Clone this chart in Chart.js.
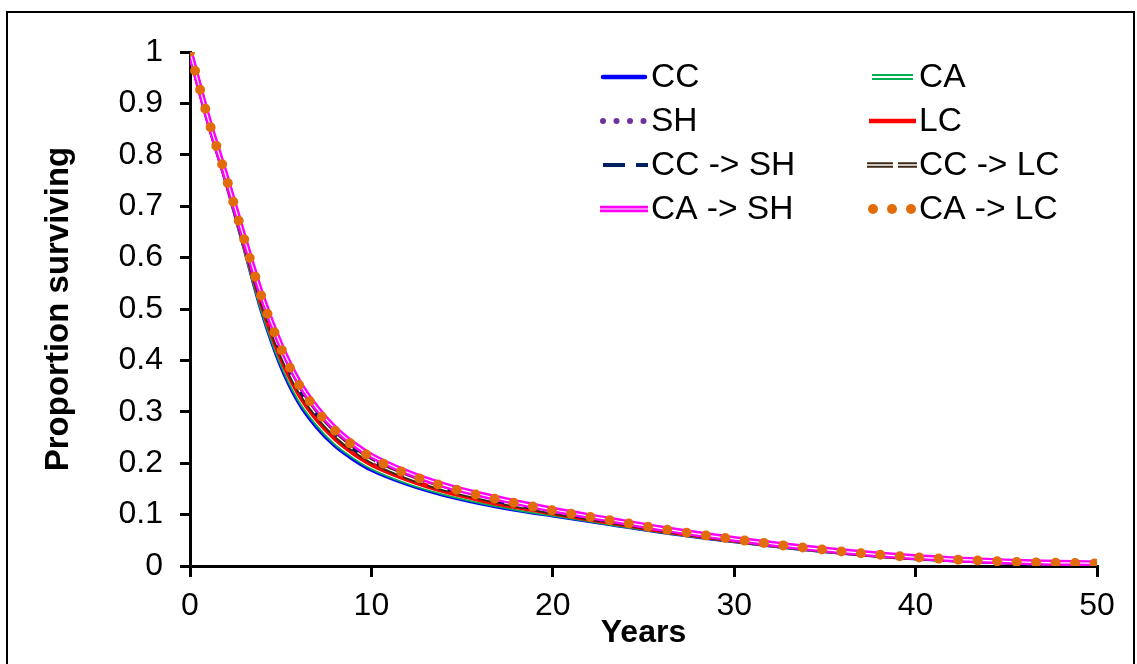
<!DOCTYPE html>
<html>
<head>
<meta charset="utf-8">
<script src="https://cdn.jsdelivr.net/npm/chart.js@4.4.1/dist/chart.umd.min.js"></script>
<style>
html,body{margin:0;padding:0;background:#ffffff;}
#wrap{position:relative;width:1137px;height:664px;overflow:hidden;}
</style>
</head>
<body>
<div id="wrap"><canvas id="c" width="1137" height="664"></canvas></div>
<script>
// ---- data ----
const years = [0,1,2,3,4,5,6,7,8,9,10,12,14,16,18,20,23,26,30,34,38,42,46,50];
const seriesLabels = ['CC','CA','SH','LC','CC -> SH','CC -> LC','CA -> SH','CA -> LC'];
const ccVals   = [1.000,0.868,0.750,0.622,0.494,0.393,0.320,0.271,0.235,0.209,0.188,0.160,0.139,0.123,0.110,0.099,0.083,0.067,0.049,0.033,0.0205,0.012,0.0065,0.004];
const caVals   = [1.000,0.868,0.751,0.624,0.498,0.399,0.326,0.277,0.240,0.2135,0.192,0.163,0.142,0.1255,0.112,0.1006,0.0843,0.068,0.0495,0.0334,0.0208,0.0122,0.0067,0.0042];
const shVals   = [1.000,0.870,0.7545,0.633,0.5156,0.422,0.350,0.299,0.260,0.2315,0.209,0.177,0.1534,0.1356,0.1208,0.1071,0.0893,0.0715,0.0517,0.0348,0.0219,0.0129,0.0074,0.0049];
const lcVals   = [1.000,0.869,0.752,0.627,0.505,0.407,0.335,0.285,0.248,0.220,0.198,0.1685,0.146,0.129,0.115,0.103,0.086,0.069,0.050,0.034,0.021,0.0124,0.0069,0.0044];
const ccShVals = [1.000,0.8696,0.754,0.631,0.513,0.418,0.346,0.295,0.257,0.2285,0.206,0.175,0.1515,0.134,0.1194,0.106,0.0885,0.071,0.0513,0.0346,0.0217,0.0128,0.0073,0.0048];
const ccLcVals = [1.000,0.869,0.753,0.630,0.511,0.415,0.343,0.293,0.255,0.2265,0.204,0.173,0.150,0.133,0.118,0.105,0.088,0.0705,0.051,0.034,0.0215,0.0127,0.0072,0.0047];
const caShVals = [1.000,0.8703,0.7558,0.6358,0.5216,0.4298,0.358,0.3067,0.2672,0.2378,0.2145,0.1819,0.1574,0.1391,0.1238,0.1094,0.091,0.0728,0.0525,0.0353,0.0222,0.0132,0.0077,0.0052];
const caLcVals = [1.000,0.870,0.755,0.634,0.518,0.425,0.353,0.302,0.263,0.234,0.211,0.179,0.155,0.137,0.122,0.108,0.090,0.072,0.052,0.035,0.022,0.013,0.0075,0.005];
const xTickLabels = ['0','10','20','30','40','50'];
const yTickLabels = ['0','0.1','0.2','0.3','0.4','0.5','0.6','0.7','0.8','0.9','1'];

// ---- styling ----
const FONT = '"Liberation Sans", Arial, sans-serif';
const colors = ['#0000FF','#00B050','#7030A0','#FF0000','#002060','#3C2814','#FF00FF','#E36C0A'];
const toXY = vals => years.map((x, i) => ({x: x, y: vals[i]}));
const base = {pointRadius:0, pointHoverRadius:0, fill:false, cubicInterpolationMode:'monotone', borderCapStyle:'butt', borderJoinStyle:'round'};

const datasets = [
  Object.assign({}, base, {label:seriesLabels[0], data:toXY(ccVals), borderColor:colors[0], borderWidth:5, order:20}),
  Object.assign({}, base, {label:seriesLabels[1], data:toXY(caVals), borderColor:colors[1], borderWidth:5, order:18}),
  Object.assign({}, base, {label:'_w1', data:toXY(caVals), borderColor:'#ffffff', borderWidth:1.5, order:17}),
  Object.assign({}, base, {label:seriesLabels[2], data:toXY(shVals), borderColor:colors[2], borderWidth:4.5, borderDash:[0,8], borderCapStyle:'round', order:16}),
  Object.assign({}, base, {label:seriesLabels[3], data:toXY(lcVals), borderColor:colors[3], borderWidth:5, order:14}),
  Object.assign({}, base, {label:seriesLabels[4], data:toXY(ccShVals), borderColor:colors[4], borderWidth:4.5, borderDash:[20,9], order:12}),
  Object.assign({}, base, {label:seriesLabels[5], data:toXY(ccLcVals), borderColor:colors[5], borderWidth:5, borderDash:[20,6], order:10}),
  Object.assign({}, base, {label:'_w2', data:toXY(ccLcVals), borderColor:'#ffffff', borderWidth:1.3, borderDash:[20,6], order:9}),
  Object.assign({}, base, {label:seriesLabels[6], data:toXY(caShVals), borderColor:colors[6], borderWidth:6, order:8}),
  Object.assign({}, base, {label:'_w3', data:toXY(caShVals), borderColor:'#ffffff', borderWidth:1.2, order:7}),
  Object.assign({}, base, {label:seriesLabels[7], data:toXY(caLcVals), borderColor:colors[7], borderWidth:10, borderDash:[0,19.5], borderCapStyle:'round', order:1})
];

// ---- plugins: outer frame and two-column legend ----
const framePlugin = {
  id: 'frame',
  beforeDraw(chart) {
    const ctx = chart.ctx;
    ctx.save();
    ctx.fillStyle = '#ffffff';
    ctx.fillRect(0, 0, chart.width, chart.height);
    ctx.strokeStyle = '#000000';
    ctx.lineWidth = 2;
    ctx.strokeRect(7, 12, 1127, 700);
    ctx.restore();
  }
};

const legendPlugin = {
  id: 'twoColLegend',
  afterDraw(chart) {
    const ctx = chart.ctx;
    const colX = [[601, 647, 651], [869, 915, 919]];
    const rowY = [77, 121, 165, 209];
    ctx.save();
    seriesLabels.forEach((lab, i) => {
      const c = i % 2, r = Math.floor(i / 2);
      const x0 = colX[c][0], x1 = colX[c][1], tx = colX[c][2], y = rowY[r];
      const col = colors[i];
      ctx.setLineDash([]);
      const line = (a, b, w, color, cap) => {
        ctx.beginPath(); ctx.moveTo(a, y); ctx.lineTo(b, y);
        ctx.lineWidth = w; ctx.strokeStyle = color; ctx.lineCap = cap || 'butt'; ctx.stroke();
      };
      const dot = (x, rad) => { ctx.beginPath(); ctx.arc(x, y, rad, 0, Math.PI * 2); ctx.fillStyle = col; ctx.fill(); };
      if (i === 0) { line(x0 + 2, x1 - 2, 4.5, col, 'round'); }
      else if (i === 1) { line(x0 + 3, x1 - 2, 6, col); line(x0 + 3, x1 - 2, 2, '#ffffff'); }
      else if (i === 2) { [603, 616.5, 630, 643.5].forEach(x => dot(x, 3)); }
      else if (i === 3) { line(x0, x1 + 1, 4.5, col); }
      else if (i === 4) { line(603, 625, 4, col); line(636, 648, 4, col); }
      else if (i === 5) { line(867, 893, 5.5, col); line(898, 917, 5.5, col); line(867, 893, 1.5, '#ffffff'); line(898, 917, 1.5, '#ffffff'); }
      else if (i === 6) { line(600, 648, 6.5, col); line(600, 648, 1, '#ffffff'); }
      else if (i === 7) { [873, 892, 911].forEach(x => dot(x, 5)); }
      ctx.fillStyle = '#000000';
      ctx.font = '33.5px ' + FONT;
      ctx.textAlign = 'left';
      ctx.textBaseline = 'middle';
      ctx.fillText(lab, tx, y + 1);
    });
    ctx.restore();
  }
};

new Chart(document.getElementById('c'), {
  type: 'line',
  data: { datasets: datasets },
  plugins: [framePlugin, legendPlugin],
  options: {
    responsive: false,
    animation: false,
    devicePixelRatio: 1,
    layout: { padding: { top: 52, right: 40, left: 0, bottom: 0 } },
    plugins: { legend: { display: false }, tooltip: { enabled: false } },
    scales: {
      x: {
        type: 'linear', min: 0, max: 50,
        afterFit(s) { s.height = 98; },
        ticks: {
          stepSize: 10, color: '#000', padding: 10,
          font: { family: FONT, size: 32 },
          callback: (v) => xTickLabels[Math.round(v / 10)]
        },
        grid: { drawOnChartArea: false, drawTicks: true, tickLength: 11, lineWidth: 3, color: '#000' },
        border: { display: true, width: 3, color: '#000' },
        title: { display: true, text: 'Years', color: '#000', font: { family: FONT, size: 32, weight: 'bold' }, padding: { top: 0, bottom: 12 } }
      },
      y: {
        min: 0, max: 1,
        afterFit(s) { s.width = 190; },
        ticks: {
          stepSize: 0.1, color: '#000', padding: 17,
          font: { family: FONT, size: 32 },
          callback: (v) => yTickLabels[Math.round(v * 10)]
        },
        grid: { drawOnChartArea: false, drawTicks: true, tickLength: 10, lineWidth: 3, color: '#000' },
        border: { display: true, width: 3, color: '#000' },
        title: { display: true, text: 'Proportion surviving', color: '#000', font: { family: FONT, size: 33, weight: 'bold' }, padding: { top: 39, bottom: 0 } }
      }
    }
  }
});
</script>
</body>
</html>
